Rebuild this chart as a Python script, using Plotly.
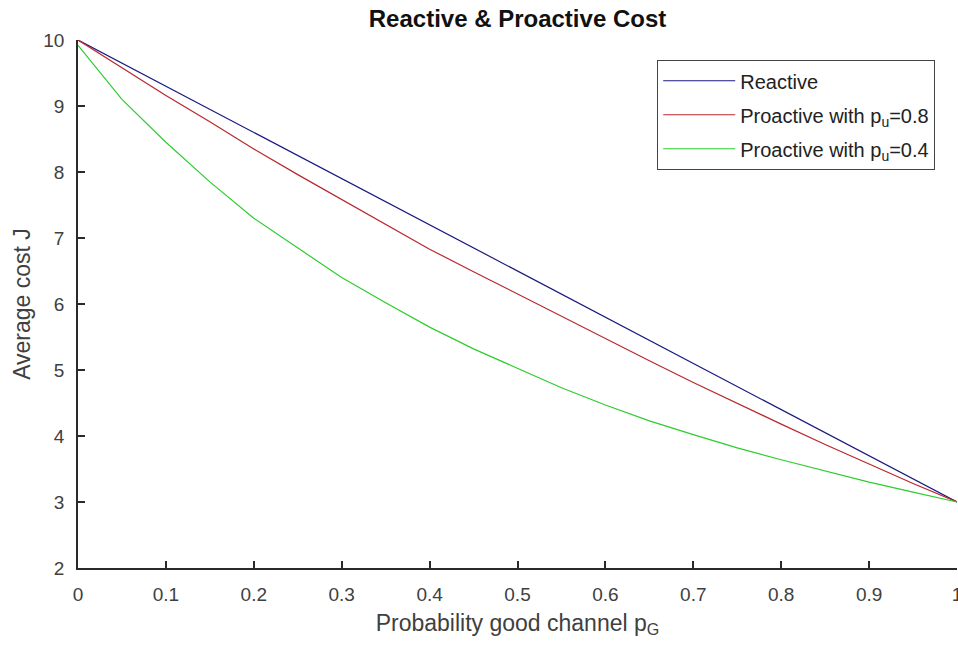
import plotly.graph_objects as go

# ---- data ----
p_grid = [0.0, 0.05, 0.1, 0.15, 0.2, 0.25, 0.3, 0.35, 0.4, 0.45, 0.5,
          0.55, 0.6, 0.65, 0.7, 0.75, 0.8, 0.85, 0.9, 0.95, 1.0]

reactive = [10.0, 9.65, 9.3, 8.95, 8.6, 8.25, 7.9, 7.55, 7.2, 6.85, 6.5,
            6.15, 5.8, 5.45, 5.1, 4.75, 4.4, 4.05, 3.7, 3.35, 3.0]

proactive_08 = [10.0, 9.58, 9.16, 8.76, 8.35, 7.96, 7.58, 7.2, 6.83, 6.49, 6.15,
                5.81, 5.47, 5.14, 4.81, 4.49, 4.18, 3.87, 3.57, 3.28, 3.0]

proactive_04 = [9.92, 9.1, 8.45, 7.85, 7.3, 6.85, 6.4, 6.02, 5.65, 5.32, 5.02,
                4.73, 4.47, 4.23, 4.02, 3.82, 3.64, 3.47, 3.3, 3.15, 3.0]

series_names = ["Reactive",
                "Proactive with p<sub>u</sub>=0.8",
                "Proactive with p<sub>u</sub>=0.4"]
series_colors = ["#1a1a80", "#b8282e", "#2ecc2e"]

x_ticks = [0, 0.1, 0.2, 0.3, 0.4, 0.5, 0.6, 0.7, 0.8, 0.9, 1]
x_tick_labels = ["0", "0.1", "0.2", "0.3", "0.4", "0.5", "0.6", "0.7", "0.8", "0.9", "1"]
y_ticks = [2, 3, 4, 5, 6, 7, 8, 9, 10]

# ---- figure ----
fig = go.Figure()
for i, (name, ys, col) in enumerate(zip(series_names, [reactive, proactive_08, proactive_04], series_colors)):
    fig.add_trace(go.Scatter(x=p_grid, y=ys, mode="lines", name=name,
                             legendgroup="g%d" % i,
                             line=dict(color=col, width=1.2)))

FONT = "Liberation Sans, Arial, Helvetica, sans-serif"
axis_col = "#2a2a2a"
text_col = "#404040"

fig.update_layout(
    width=958, height=648,
    margin=dict(l=78, r=1, t=40, b=80, autoexpand=False),
    paper_bgcolor="white", plot_bgcolor="white",
    font=dict(family=FONT, color=text_col, size=19),
    title=dict(text="<b>Reactive & Proactive Cost</b>", x=(78 + 957) / 2 / 958, xanchor="center",
               y=1 - 19 / 648, yanchor="middle",
               font=dict(family=FONT, size=24, color="#111111")),
    showlegend=True,
    legend=dict(x=0.975, xanchor="right", y=0.962, yanchor="top",
                bgcolor="white", bordercolor="#444444", borderwidth=1.2,
                font=dict(family=FONT, size=20, color="#222222"),
                itemwidth=72, tracegroupgap=5),
)

fig.update_xaxes(range=[0, 1], tickvals=x_ticks, ticktext=x_tick_labels,
                 automargin=False,
                 showgrid=False, zeroline=False,
                 showline=True, linecolor=axis_col, linewidth=1.5,
                 ticks="inside", ticklen=7, tickcolor=axis_col, tickwidth=1.5,
                 ticklabelstandoff=8, ticklabeloverflow="allow",
                 tickfont=dict(family=FONT, size=19, color=text_col),
                 title=dict(text="Probability good channel p<sub>G</sub>",
                            font=dict(family=FONT, size=23, color=text_col),
                            standoff=11))

fig.update_yaxes(range=[2, 10], tickvals=y_ticks,
                 automargin=False,
                 showgrid=False, zeroline=False,
                 showline=True, linecolor=axis_col, linewidth=1.5,
                 ticks="inside", ticklen=7, tickcolor=axis_col, tickwidth=1.5,
                 ticklabelstandoff=8, ticklabeloverflow="allow",
                 tickfont=dict(family=FONT, size=19, color=text_col),
                 title=dict(text="Average cost J",
                            font=dict(family=FONT, size=23, color=text_col),
                            standoff=6))

fig.write_html("out.html")
